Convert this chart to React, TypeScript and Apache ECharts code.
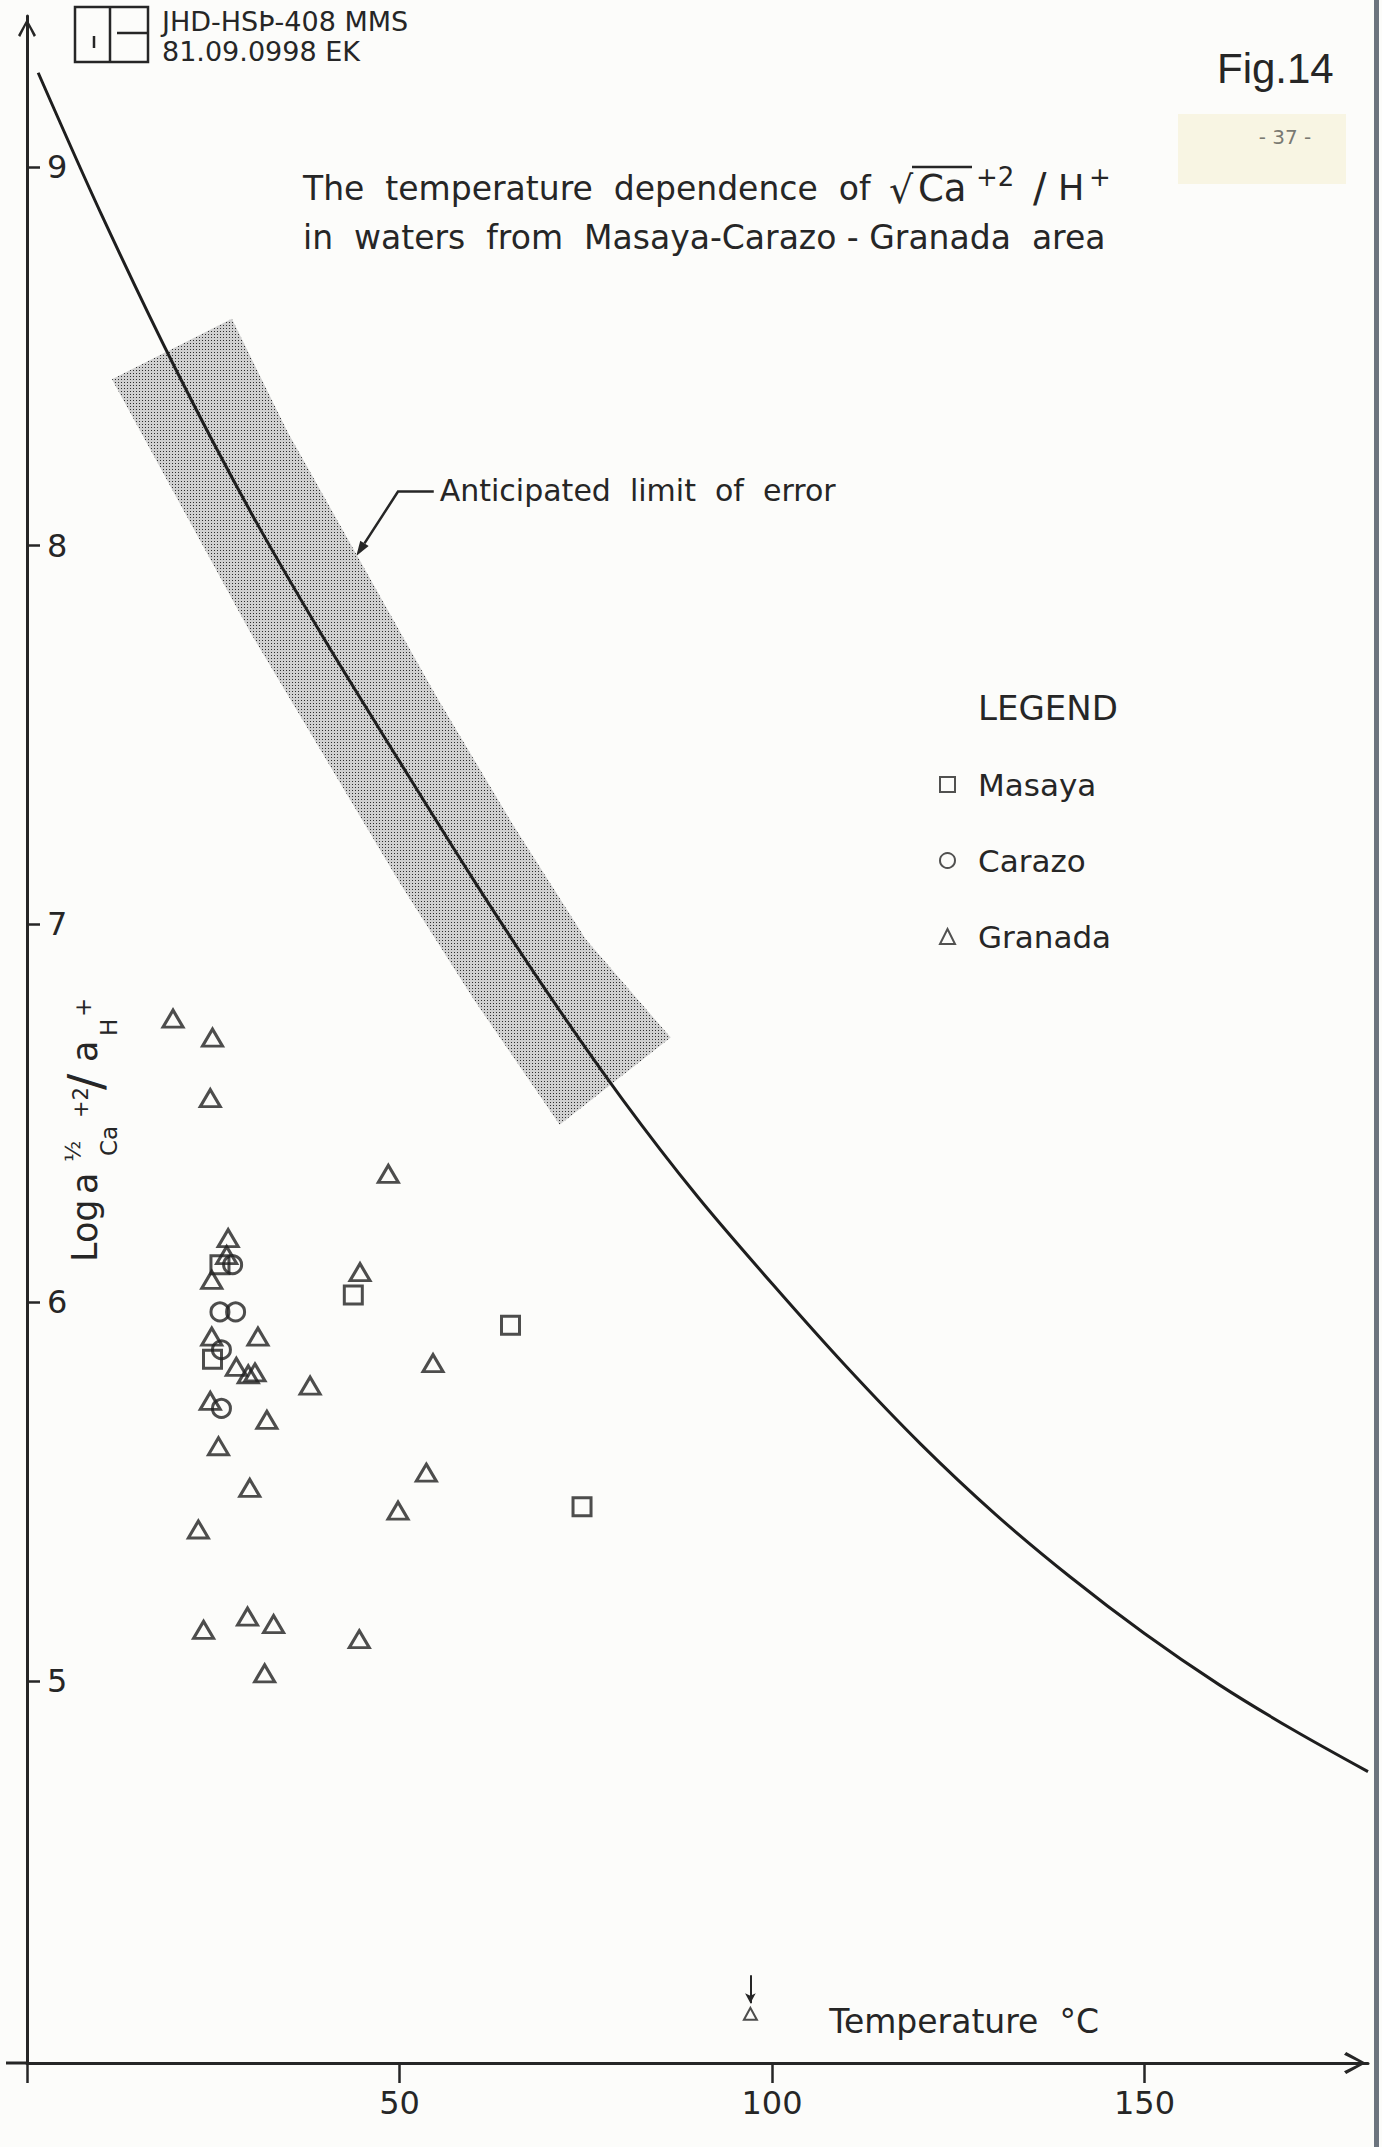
import React, { useEffect, useRef } from 'react';
import * as echarts from 'echarts';

const W = 1382;
const H = 2147;
const FONT = 'DejaVu Sans';
const INK = '#262626';

// Theoretical curve: temperature (°C) vs log(aCa^1/2 / aH)
const curveT = [1.5, 10, 20, 30, 40, 50, 60, 70, 80, 90, 100, 110, 120, 130, 140, 150, 160, 170, 180];
const curveV = [9.25, 8.875, 8.465, 8.09, 7.75, 7.43, 7.115, 6.815, 6.535, 6.28, 6.05, 5.83, 5.625, 5.44, 5.275, 5.125, 4.99, 4.87, 4.76];

// Anticipated limit of error (shaded band) edges
const bandLowerT = [11.4, 20, 30, 40, 50, 60, 71.5];
const bandLowerV = [8.44, 8.13, 7.77, 7.44, 7.11, 6.8, 6.47];
const bandUpperT = [27.5, 35, 45, 55, 65, 75, 86.4];
const bandUpperV = [8.6, 8.3, 7.95, 7.6, 7.27, 6.96, 6.7];

// Masaya (squares)
const masayaT = [25.9, 43.8, 24.9, 64.9, 74.5];
const masayaV = [6.1, 6.02, 5.85, 5.94, 5.46];

// Carazo (circles)
const carazoT = [27.6, 25.9, 28.0, 26.1, 26.1];
const carazoV = [6.1, 5.975, 5.975, 5.875, 5.72];

// Granada (triangles)
const granadaT = [19.6, 24.9, 24.6, 48.5, 27.0, 26.8, 24.8, 44.7, 24.8, 31.0, 28.1, 29.7, 30.6, 38.0, 54.5, 24.6, 32.2, 25.7, 53.6, 29.9, 49.8, 23.0, 23.7, 29.6, 33.1, 44.6, 31.9];
const granadaV = [6.75, 6.7, 6.54, 6.34, 6.17, 6.125, 6.06, 6.08, 5.91, 5.91, 5.83, 5.81, 5.815, 5.78, 5.84, 5.74, 5.69, 5.62, 5.55, 5.51, 5.45, 5.4, 5.135, 5.17, 5.15, 5.11, 5.02];
// Granada sample plotted at the bottom edge (off scale)
const granadaLowT = [97.1];
const granadaLowV = [4.12];
const lowArrowV = [4.222, 4.148];

const xTicks = [50, 100, 150];
const yTicks = [5, 6, 7, 8, 9];

// annotation anchor points (data coords)
const leaderT = [54.6, 49.8, 44.2];
const leaderV = [8.143, 8.143, 7.973];
const annoTextT = 55.4;
const annoTextV = 8.145;
const xNameT = 107.7;
const xNameV = 4.1;

const ARROW = 'path://M5,0 L10,9 L8.8,10 L5,2.4 L1.2,10 L0,9 Z';

function stipple(): any {
  const c = document.createElement('canvas');
  c.width = 3;
  c.height = 3;
  const g = c.getContext('2d')!;
  g.fillStyle = '#d0d0d0';
  g.fillRect(0, 0, 3, 3);
  g.fillStyle = '#2e2e2e';
  g.fillRect(1, 1, 1, 1);
  return { image: c, repeat: 'repeat' };
}

const hollow = { color: 'rgba(0,0,0,0)', borderColor: '#202020', borderWidth: 3 };

function baseOption(): any {
  const pattern = stipple();
  return {
    animation: false,
    backgroundColor: '#fcfcfa',
    grid: { left: 27, right: 14, top: 16, bottom: 84, containLabel: false, outerBoundsMode: 'none' },
    legend: {
      data: ['Masaya', 'Carazo', 'Granada'],
      orient: 'vertical',
      left: 934,
      top: 764,
      itemWidth: 15,
      itemHeight: 15,
      itemGap: 45,
      selectedMode: false,
      textStyle: { fontFamily: FONT, fontSize: 31, color: INK, padding: [0, 0, 0, 18] },
      itemStyle: { color: 'rgba(0,0,0,0)', borderColor: INK, borderWidth: 2 },
    },
    xAxis: {
      type: 'value',
      min: 0,
      max: 180,
      splitLine: { show: false },
      axisLine: {
        show: true,
        onZero: false,
        lineStyle: { color: INK, width: 3 },
        symbol: ['none', ARROW],
        symbolSize: [22, 26],
        symbolOffset: [0, -13],
      },
      axisTick: { show: true, inside: false, length: 20, lineStyle: { color: INK, width: 2.5 }, customValues: [0, ...xTicks] },
      axisLabel: { show: true, customValues: xTicks, margin: 24, fontFamily: FONT, fontSize: 32, color: INK },
    },
    yAxis: {
      type: 'value',
      min: 3.99,
      max: 9.4,
      splitLine: { show: false },
      axisLine: {
        show: true,
        onZero: false,
        lineStyle: { color: INK, width: 3 },
        symbol: ['none', ARROW],
        symbolSize: [18, 24],
        symbolOffset: [0, -12],
      },
      axisTick: { show: true, inside: true, length: 13, lineStyle: { color: INK, width: 2.5 }, customValues: yTicks },
      axisLabel: { show: true, inside: true, customValues: yTicks, margin: 20, fontFamily: FONT, fontSize: 32, color: INK },
    },
    series: [
      {
        name: 'band',
        type: 'custom',
        z: 1,
        silent: true,
        data: [[0, 0]],
        renderItem: (_params: any, api: any) => {
          const pts: number[][] = [];
          for (let i = 0; i < bandLowerT.length; i++) pts.push(api.coord([bandLowerT[i], bandLowerV[i]]));
          for (let i = bandUpperT.length - 1; i >= 0; i--) pts.push(api.coord([bandUpperT[i], bandUpperV[i]]));
          return { type: 'polygon', shape: { points: pts }, style: { fill: pattern, stroke: 'none' } };
        },
      },
      {
        name: 'curve',
        type: 'line',
        z: 3,
        smooth: 0.3,
        symbol: 'none',
        showSymbol: false,
        silent: true,
        lineStyle: { color: '#1e1e1e', width: 3 },
        data: curveT.map((t, i) => [t, curveV[i]]),
      },
      {
        name: 'Masaya',
        type: 'scatter',
        z: 5,
        symbol: 'rect',
        symbolSize: 18,
        itemStyle: hollow,
        data: masayaT.map((t, i) => [t, masayaV[i]]),
      },
      {
        name: 'Carazo',
        type: 'scatter',
        z: 5,
        symbol: 'circle',
        symbolSize: 18,
        itemStyle: hollow,
        data: carazoT.map((t, i) => [t, carazoV[i]]),
      },
      {
        name: 'Granada',
        type: 'scatter',
        z: 5,
        symbol: 'triangle',
        symbolSize: [20, 17],
        itemStyle: hollow,
        data: [
          ...granadaT.map((t, i) => [t, granadaV[i]]),
          ...granadaLowT.map((t, i) => ({ value: [t, granadaLowV[i]], symbolSize: [13, 12], itemStyle: { borderWidth: 2 } })),
        ],
        markLine: {
          silent: true,
          symbol: ['none', 'arrow'],
          symbolSize: [8, 10],
          label: { show: false },
          lineStyle: { color: INK, width: 2, type: 'solid' },
          data: granadaLowT.map((t) => [{ coord: [t, lowArrowV[0]] }, { coord: [t, lowArrowV[1]] }]),
        },
      },
    ],
  };
}

function txt(x: number, y: number, text: string, size: number, extra: any = {}): any {
  return {
    type: 'text',
    x,
    y,
    silent: true,
    style: {
      text,
      fontFamily: extra.fontFamily || FONT,
      fontSize: size,
      fontWeight: extra.fontWeight || 'normal',
      fill: extra.fill || INK,
      align: extra.align || 'left',
      textAlign: extra.align || 'left',
      verticalAlign: 'middle',
      textVerticalAlign: 'middle',
    },
  };
}

function buildGraphics(px: (t: number, v: number) => number[]): any[] {
  const g: any[] = [];
  // page edge
  g.push({ type: 'rect', silent: true, shape: { x: 1374, y: 0, width: 5, height: H }, style: { fill: '#6c747e' } });

  // logo
  g.push({ type: 'rect', silent: true, shape: { x: 75, y: 7, width: 73, height: 55 }, style: { fill: 'none', stroke: INK, lineWidth: 2.5 } });
  g.push({ type: 'line', silent: true, shape: { x1: 110, y1: 7, x2: 110, y2: 62 }, style: { stroke: INK, lineWidth: 2.5 } });
  g.push({ type: 'line', silent: true, shape: { x1: 94, y1: 36, x2: 94, y2: 48 }, style: { stroke: INK, lineWidth: 2.5 } });
  g.push({ type: 'line', silent: true, shape: { x1: 117, y1: 33, x2: 148, y2: 33 }, style: { stroke: INK, lineWidth: 2.5 } });
  g.push(txt(162, 21, 'JHD-HSÞ-408 MMS', 27));
  g.push(txt(162, 51, '81.09.0998 EK', 27));

  // Fig label and page number
  g.push(txt(1217, 68, 'Fig.14', 42, { fontFamily: 'Liberation Sans' }));
  g.push({ type: 'rect', silent: true, shape: { x: 1178, y: 114, width: 168, height: 70 }, style: { fill: '#f8f5e3' } });
  g.push(txt(1285, 137, '- 37 -', 20, { fill: '#7a7a72', align: 'center' }));

  // title line 1 (text + formula pieces)
  const ty = 188;
  g.push(txt(303, ty, 'The  temperature  dependence  of', 33));
  g.push(txt(889, ty + 2, '√', 38));
  g.push({ type: 'line', silent: true, shape: { x1: 912, y1: ty - 21, x2: 972, y2: ty - 21 }, style: { stroke: INK, lineWidth: 2.5 } });
  g.push(txt(918, ty, 'Ca', 37));
  g.push(txt(976, ty - 11, '+2', 26));
  g.push(txt(1033, ty, '/', 40));
  g.push(txt(1058, ty, 'H', 35));
  g.push(txt(1089, ty - 11, '+', 26));
  // title line 2
  g.push(txt(303, 237, 'in  waters  from  Masaya-Carazo - Granada  area', 33));

  // legend title
  g.push(txt(978, 708, 'LEGEND', 34));

  // annotation: anticipated limit of error
  const a0 = px(leaderT[0], leaderV[0]);
  const a1 = px(leaderT[1], leaderV[1]);
  const a2 = px(leaderT[2], leaderV[2]);
  const dx = a2[0] - a1[0];
  const dy = a2[1] - a1[1];
  const len = Math.sqrt(dx * dx + dy * dy);
  const ux = dx / len;
  const uy = dy / len;
  const hb = [a2[0] - ux * 15, a2[1] - uy * 15];
  g.push({ type: 'polyline', silent: true, shape: { points: [a0, a1, hb] }, style: { stroke: INK, lineWidth: 2.5, fill: 'none' } });
  g.push({
    type: 'polygon',
    silent: true,
    shape: { points: [a2, [hb[0] - uy * 5, hb[1] + ux * 5], [hb[0] + uy * 5, hb[1] - ux * 5]] },
    style: { fill: INK },
  });
  const at = px(annoTextT, annoTextV);
  g.push(txt(at[0], at[1], 'Anticipated  limit  of  error', 30));

  // x axis name
  const xn = px(xNameT, xNameV);
  g.push(txt(xn[0], xn[1], 'Temperature  °C', 33));

  // x axis extension to the left of the origin
  const o = px(0, 3.99);
  g.push({ type: 'line', silent: true, shape: { x1: 6, y1: o[1], x2: o[0], y2: o[1] }, style: { stroke: INK, lineWidth: 3 } });

  // y axis name (rotated)
  const yl = (x: number, y: number, t: string, s: number) => txt(x, y, t, s);
  g.push({
    type: 'group',
    x: 97,
    y: 1262,
    rotation: Math.PI / 2,
    silent: true,
    children: [
      yl(0, -12, 'Log', 35),
      yl(68, -12, 'a', 35),
      yl(100, -25, '½', 22),
      yl(106, 12, 'Ca', 23),
      yl(144, -16, '+2', 21),
      yl(172, -12, '/', 48),
      yl(200, -12, 'a', 35),
      yl(226, 12, 'H', 23),
      yl(245, -14, '+', 23),
    ],
  });
  return g;
}

export default function App() {
  const ref = useRef<HTMLDivElement>(null);
  useEffect(() => {
    const el = ref.current!;
    const chart = echarts.init(el, null, { renderer: 'svg', width: W, height: H });
    chart.setOption(baseOption());
    const px = (t: number, v: number) => chart.convertToPixel({ gridIndex: 0 } as any, [t, v]) as unknown as number[];
    chart.setOption({ graphic: buildGraphics(px) });
    return () => chart.dispose();
  }, []);
  return <div ref={ref} style={{ position: 'absolute', left: 0, top: 0, width: W, height: H, background: '#fcfcfa' }} />;
}
